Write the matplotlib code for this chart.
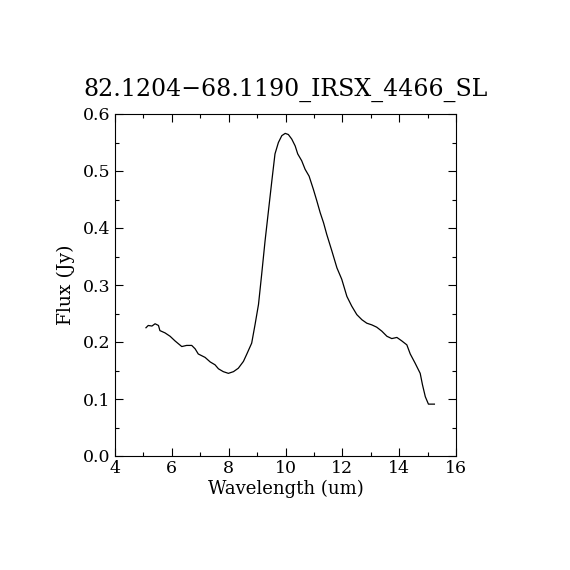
import matplotlib
matplotlib.use('Agg')
import matplotlib.pyplot as plt
from matplotlib.ticker import MultipleLocator

# spectrum
wavelength = [5.09, 5.17, 5.30, 5.41, 5.53, 5.58, 5.76, 5.94, 6.11, 6.35, 6.52,
              6.70, 6.82, 6.93, 7.17, 7.35, 7.52, 7.64, 7.81, 7.99, 8.17, 8.34,
              8.52, 8.64, 8.81, 8.93, 9.05, 9.16, 9.28, 9.40, 9.52, 9.63, 9.75,
              9.87, 9.99, 10.10, 10.22, 10.34, 10.43, 10.57, 10.69, 10.83, 10.98,
              11.10, 11.22, 11.34, 11.45, 11.63, 11.81, 11.98, 12.16, 12.33,
              12.51, 12.69, 12.86, 13.04, 13.21, 13.39, 13.57, 13.74, 13.92,
              14.09, 14.27, 14.39, 14.56, 14.74, 14.82, 14.92, 15.03, 15.24]
flux = [0.225, 0.229, 0.228, 0.232, 0.229, 0.220, 0.216, 0.210, 0.202, 0.192,
        0.194, 0.194, 0.188, 0.179, 0.173, 0.165, 0.160, 0.153, 0.148, 0.145,
        0.148, 0.154, 0.166, 0.179, 0.198, 0.231, 0.266, 0.318, 0.377, 0.430,
        0.483, 0.530, 0.550, 0.562, 0.566, 0.564, 0.556, 0.544, 0.530, 0.518,
        0.503, 0.491, 0.468, 0.448, 0.427, 0.409, 0.389, 0.360, 0.330, 0.310,
        0.280, 0.263, 0.248, 0.239, 0.233, 0.230, 0.226, 0.219, 0.210, 0.206,
        0.208, 0.202, 0.195, 0.179, 0.163, 0.145, 0.125, 0.104, 0.091, 0.091]

title = "82.1204\u221268.1190_IRSX_4466_SL"

plt.rcParams['font.family'] = ['DejaVu Serif']

fig = plt.figure(figsize=(5.7, 5.7), dpi=100)
ax = fig.add_axes([115 / 570, 114 / 570, 341 / 570, 342 / 570])

ax.plot(wavelength, flux, color='black', lw=0.9)

ax.set_xlim(4, 16)
ax.set_ylim(0, 0.6)
ax.xaxis.set_major_locator(MultipleLocator(2))
ax.xaxis.set_minor_locator(MultipleLocator(1))
ax.yaxis.set_major_locator(MultipleLocator(0.1))
ax.yaxis.set_minor_locator(MultipleLocator(0.05))
ax.yaxis.set_major_formatter(plt.FormatStrFormatter('%.1f'))
ax.tick_params(which='both', direction='in', top=True, right=True,
               labelsize=12.5, width=0.8)
ax.tick_params(which='major', length=6, pad=3)
ax.tick_params(which='minor', length=3)
for s in ax.spines.values():
    s.set_linewidth(0.8)

ax.set_xlabel("Wavelength (um)", fontsize=13, labelpad=2)
ax.set_ylabel("Flux (Jy)", fontsize=13.5, labelpad=6)
ax.set_title(title, fontsize=17, pad=13)

fig.savefig("out.png", dpi=100)
